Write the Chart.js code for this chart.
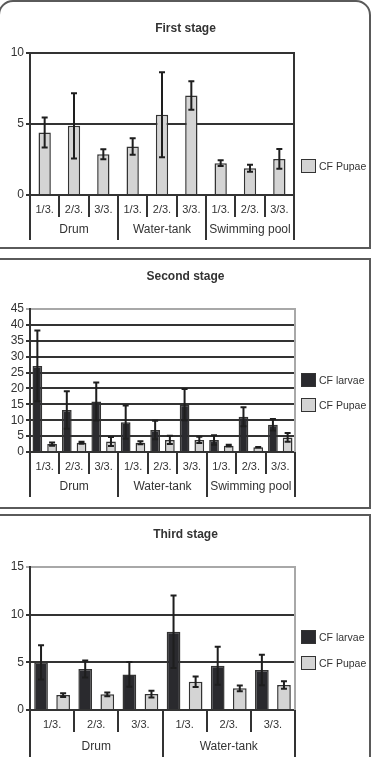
<!DOCTYPE html>
<html>
<head>
<meta charset="utf-8">
<script src="https://cdn.jsdelivr.net/npm/chart.js@4.4.1/dist/chart.umd.min.js"></script>
<style>
  body { margin: 0; background: #fff; width: 371px; height: 757px; overflow: hidden; position: relative;
         font-family: "Liberation Sans", Arial, sans-serif; color: #333; }
  .panel { position: absolute; box-sizing: border-box; border: 2px solid #5a5a5a; }
  canvas { position: absolute; left: 0; }
  .title { position: absolute; left: 0; width: 371px; text-align: center; font-weight: bold; font-size: 12px; line-height: 14px; }
  .leg { position: absolute; left: 301px; font-size: 10.5px; line-height: 14px; white-space: nowrap; }
  .leg i { display: inline-block; box-sizing: border-box; width: 15px; height: 14px; border: 1.5px solid #333; vertical-align: top; margin-right: 3px; }
</style>
</head>
<body>
<div class="panel" style="left:-2px; top:0; width:373px; height:249px; border-radius:15px 15px 0 0;"></div>
<div class="panel" style="left:-2px; top:258px; width:373px; height:251px;"></div>
<div class="panel" style="left:-2px; top:514px; width:373px; height:270px; border-radius:0 0 15px 15px;"></div>

<canvas id="c1" width="371" height="248" style="top:0"></canvas>
<canvas id="c2" width="371" height="249" style="top:259px"></canvas>
<canvas id="c3" width="371" height="242" style="top:515px"></canvas>

<div class="title" style="top:21px">First stage</div>
<div class="title" style="top:269px">Second stage</div>
<div class="title" style="top:527px">Third stage</div>

<div class="leg" style="top:159px"><i style="background:#d4d4d4"></i>CF Pupae</div>
<div class="leg" style="top:373px"><i style="background:#2a2a2e"></i>CF larvae</div>
<div class="leg" style="top:398px"><i style="background:#d4d4d4"></i>CF Pupae</div>
<div class="leg" style="top:630px"><i style="background:#2a2a2e"></i>CF larvae</div>
<div class="leg" style="top:656px"><i style="background:#d4d4d4"></i>CF Pupae</div>

<script>
// sample labels and sites
const sampleLabels = ["1/3.", "2/3.", "3/3."];
const sitesAll = ["Drum", "Water-tank", "Swimming pool"];
const sitesThird = ["Drum", "Water-tank"];

// first stage
const stage1Pupae = [4.4, 4.87, 2.87, 3.41, 5.65, 7.01, 2.24, 1.88, 2.54];
const stage1PupaeErr = [1.05, 2.3, 0.35, 0.58, 3.0, 1.0, 0.2, 0.25, 0.7];

// second stage
const stage2Larvae = [27.1, 13.2, 15.9, 9.4, 6.9, 14.9, 3.8, 11.1, 8.6];
const stage2LarvaeErr = [11.1, 5.9, 6.0, 5.2, 2.9, 4.9, 1.5, 3.0, 1.8];
const stage2Pupae = [2.5, 2.9, 3.3, 2.9, 3.8, 3.8, 2.0, 1.5, 4.6];
const stage2PupaeErr = [0.5, 0.3, 1.4, 0.5, 1.3, 1.0, 0.3, 0.1, 1.4];

// third stage
const stage3Larvae = [5.0, 4.3, 3.73, 8.2, 4.64, 4.19];
const stage3LarvaeErr = [1.8, 0.9, 1.3, 3.8, 2.0, 1.6];
const stage3Pupae = [1.57, 1.64, 1.67, 2.96, 2.27, 2.62];
const stage3PupaeErr = [0.2, 0.2, 0.35, 0.55, 0.3, 0.4];

const DARK = "#2a2a2e";
const LIGHT = "#d4d4d4";
const LINE = "#333";
const GRAY = "#a8a8a8";
const FONT = "Liberation Sans";

function makeLabels(sites) {
  let out = [];
  for (let s = 0; s < sites.length; s++) {
    for (let k = 0; k < sampleLabels.length; k++) out.push(sites[s] + " " + sampleLabels[k]);
  }
  return out;
}

// error bars + two-level x axis + right border
const panelDeco = {
  id: "panelDeco",
  afterDatasetsDraw(chart, args, opts) {
    const ctx = chart.ctx;
    const y = chart.scales.y;
    ctx.save();
    ctx.strokeStyle = "#1e1e1e";
    ctx.lineWidth = 2;
    chart.data.datasets.forEach(function (ds, di) {
      const meta = chart.getDatasetMeta(di);
      const err = opts.errors[di];
      meta.data.forEach(function (bar, i) {
        const v = ds.data[i];
        const top = y.getPixelForValue(v + err[i]);
        const bot = y.getPixelForValue(Math.max(v - err[i], 0));
        ctx.beginPath();
        ctx.moveTo(bar.x, top); ctx.lineTo(bar.x, bot);
        ctx.moveTo(bar.x - 3, top); ctx.lineTo(bar.x + 3, top);
        ctx.moveTo(bar.x - 3, bot); ctx.lineTo(bar.x + 3, bot);
        ctx.stroke();
      });
    });
    ctx.restore();
  },
  afterDraw(chart, args, opts) {
    const ctx = chart.ctx;
    const a = chart.chartArea;
    const x = chart.scales.x;
    const n = chart.data.labels.length;
    ctx.save();
    // right border of the plot
    ctx.strokeStyle = opts.rightColor;
    ctx.lineWidth = 2;
    ctx.beginPath();
    ctx.moveTo(a.right, a.top - 1); ctx.lineTo(a.right, a.bottom);
    ctx.stroke();
    // dividers
    ctx.strokeStyle = LINE;
    for (let k = 0; k <= n; k++) {
      const xb = Math.round(x.getPixelForValue(k - 0.5));
      const len = k % 3 === 0 ? opts.groupLen : 22;
      ctx.beginPath();
      ctx.moveTo(xb, a.bottom); ctx.lineTo(xb, a.bottom + len);
      ctx.stroke();
    }
    // labels
    ctx.fillStyle = LINE;
    ctx.textAlign = "center";
    ctx.textBaseline = "middle";
    ctx.font = "11px " + FONT;
    for (let i = 0; i < n; i++) {
      ctx.fillText(sampleLabels[i % 3], x.getPixelForValue(i), a.bottom + 15);
    }
    ctx.font = "12px " + FONT;
    opts.groups.forEach(function (g, gi) {
      const cx = (x.getPixelForValue(gi * 3) + x.getPixelForValue(gi * 3 + 2)) / 2;
      ctx.fillText(g, cx, a.bottom + opts.groupY);
    });
    ctx.restore();
  }
};

function barSet(data, color, pct) {
  return {
    data: data,
    backgroundColor: color,
    borderColor: LINE,
    borderWidth: 1.5,
    categoryPercentage: 1,
    barPercentage: pct
  };
}

function drawPanel(id, cfg) {
  const ctx = document.getElementById(id).getContext("2d");
  return new Chart(ctx, {
    type: "bar",
    data: { labels: cfg.labels, datasets: cfg.datasets },
    plugins: [panelDeco],
    options: {
      responsive: false,
      animation: false,
      devicePixelRatio: 1,
      layout: { padding: cfg.padding },
      plugins: {
        legend: { display: false },
        tooltip: { enabled: false },
        panelDeco: {
          errors: cfg.errors,
          groups: cfg.groups,
          rightColor: cfg.rightColor,
          groupLen: cfg.groupLen,
          groupY: cfg.groupY
        }
      },
      scales: {
        x: {
          grid: { display: false },
          border: { display: true, color: LINE, width: 2 },
          ticks: { display: false },
          afterFit: function (s) { s.height = cfg.xHeight; }
        },
        y: {
          min: 0,
          max: cfg.max,
          ticks: { stepSize: 5, autoSkip: false, color: LINE, padding: 2, font: { family: FONT, size: 12 } },
          grid: {
            color: function (c) { return c.tick && c.tick.value === cfg.max ? cfg.topColor : LINE; },
            lineWidth: 2,
            tickLength: 4
          },
          border: { color: LINE, width: 2 },
          afterFit: function (s) { s.width = 30; }
        }
      }
    }
  });
}

drawPanel("c1", {
  labels: makeLabels(sitesAll),
  datasets: [barSet(stage1Pupae, LIGHT, 0.42)],
  errors: [stage1PupaeErr],
  groups: sitesAll,
  max: 10,
  topColor: LINE,
  rightColor: LINE,
  padding: { left: 0, right: 77, top: 53, bottom: 3 },
  xHeight: 50,
  groupLen: 45,
  groupY: 35
});

drawPanel("c2", {
  labels: makeLabels(sitesAll),
  datasets: [barSet(stage2Larvae, DARK, 0.66), barSet(stage2Pupae, LIGHT, 0.66)],
  errors: [stage2LarvaeErr, stage2PupaeErr],
  groups: sitesAll,
  max: 45,
  topColor: GRAY,
  rightColor: GRAY,
  padding: { left: 0, right: 76, top: 50, bottom: 6 },
  xHeight: 50,
  groupLen: 45,
  groupY: 35
});

drawPanel("c3", {
  labels: makeLabels(sitesThird),
  datasets: [barSet(stage3Larvae, DARK, 0.62), barSet(stage3Pupae, LIGHT, 0.62)],
  errors: [stage3LarvaeErr, stage3PupaeErr],
  groups: sitesThird,
  max: 15,
  topColor: GRAY,
  rightColor: GRAY,
  padding: { left: 0, right: 76, top: 52, bottom: 0 },
  xHeight: 47,
  groupLen: 47,
  groupY: 37
});
</script>
</body>
</html>
